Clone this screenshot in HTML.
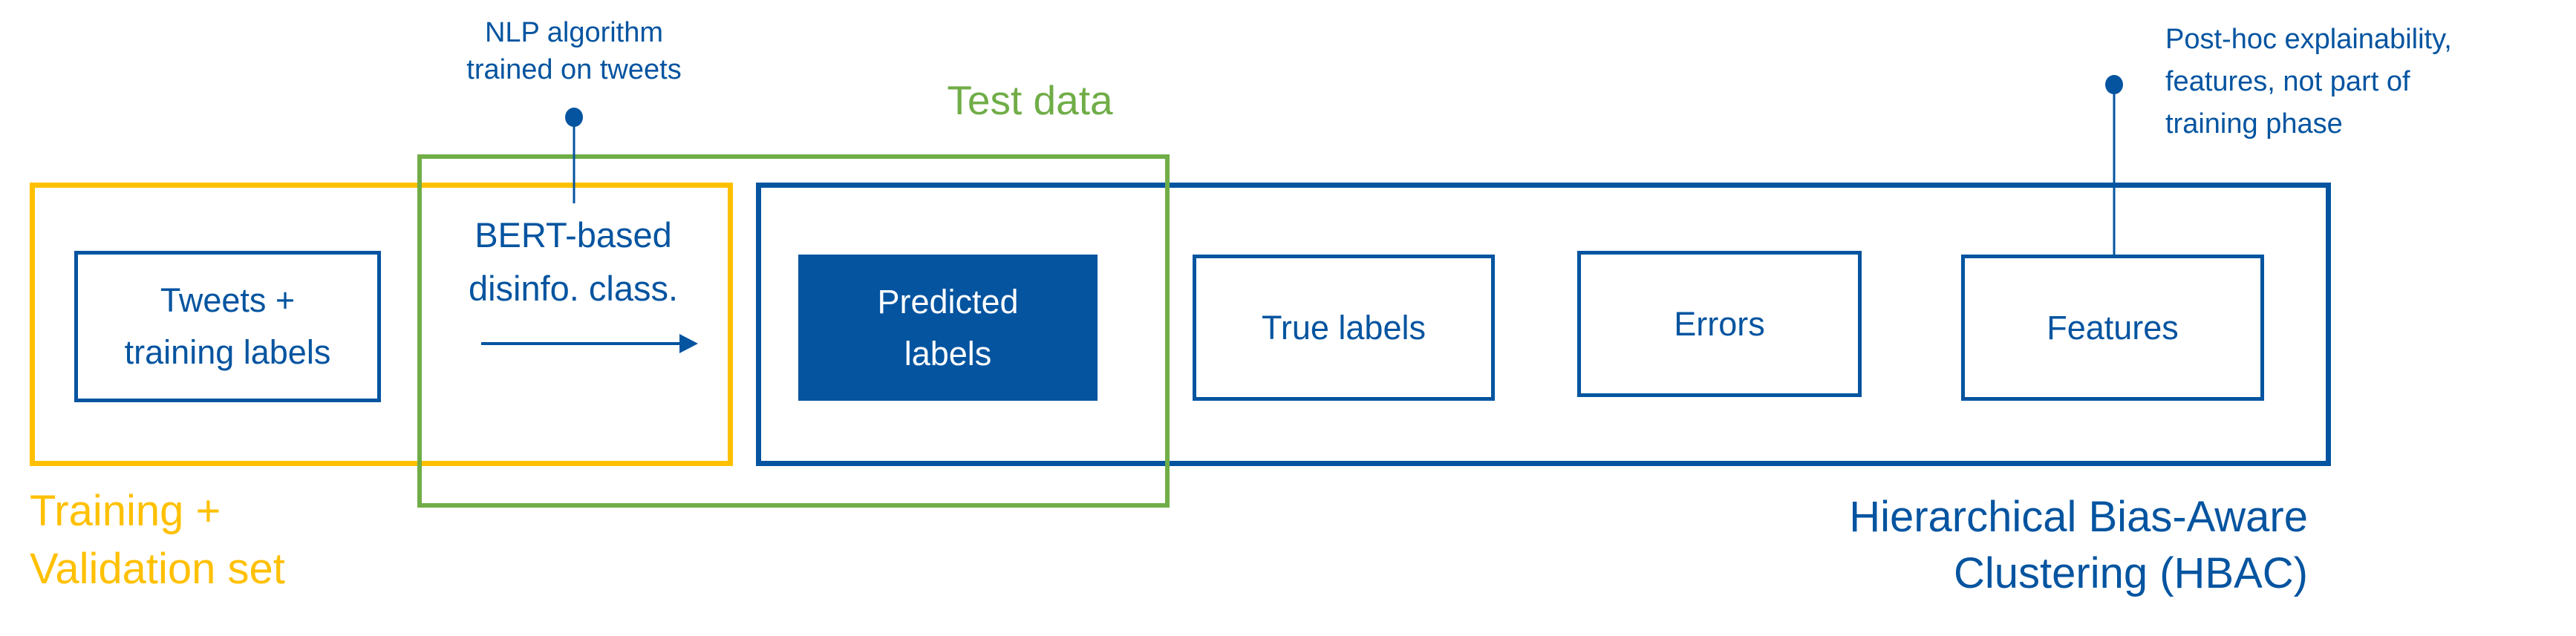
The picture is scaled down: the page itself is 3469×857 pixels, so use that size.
<!DOCTYPE html>
<html><head><meta charset="utf-8"><style>
html,body{margin:0;padding:0;background:#fff}
body{width:3469px;height:857px;position:relative;overflow:hidden;font-family:"Liberation Sans",sans-serif;color:#0454A0}
.b{position:absolute;box-sizing:border-box}
.t{position:absolute;white-space:nowrap;line-height:1.6}
.c{text-align:center;display:flex;align-items:center;justify-content:center;font-size:45px;line-height:1.55}
</style></head><body>
<div class="b" style="left:40px;top:246px;width:947px;height:382px;border:7px solid #FFC000"></div>
<div class="b" style="left:1018px;top:246px;width:2121px;height:382px;border:7px solid #0454A0"></div>
<div class="b" style="left:562px;top:208px;width:1013px;height:476px;border:6px solid #70AD47"></div>

<div class="b c" style="left:100px;top:338px;width:413px;height:204px;border:5px solid #0454A0">Tweets +<br>training labels</div>
<div class="b c" style="left:1075px;top:343px;width:403px;height:197px;background:#0454A0;color:#fff">Predicted<br>labels</div>
<div class="b c" style="left:1606px;top:343px;width:407px;height:197px;border:5px solid #0454A0">True labels</div>
<div class="b c" style="left:2124px;top:338px;width:383px;height:197px;border:5px solid #0454A0">Errors</div>
<div class="b c" style="left:2641px;top:343px;width:408px;height:197px;border:5px solid #0454A0">Features</div>

<div class="t" style="left:572px;top:281px;width:400px;text-align:center;font-size:47px;line-height:72px">BERT-based<br>disinfo. class.</div>

<svg class="b" style="left:0;top:0" width="3469" height="857">
<line x1="648" y1="463" x2="920" y2="463" stroke="#0454A0" stroke-width="4"/>
<polygon points="940,463 915,450 915,476" fill="#0454A0"/>
<line x1="773" y1="160" x2="773" y2="274" stroke="#0454A0" stroke-width="3"/>
<ellipse cx="773" cy="158" rx="12" ry="13" fill="#0454A0"/>
<line x1="2847" y1="115" x2="2847" y2="343" stroke="#0454A0" stroke-width="3"/>
<ellipse cx="2847" cy="114" rx="12" ry="13" fill="#0454A0"/>
</svg>

<div class="t" style="left:573px;top:19px;width:400px;text-align:center;font-size:38px;line-height:50px">NLP algorithm<br>trained on tweets</div>
<div class="t" style="left:1237px;top:102px;width:300px;text-align:center;font-size:55px;line-height:66px;color:#70AD47">Test data</div>
<div class="t" style="left:40px;top:650px;font-size:58px;line-height:78px;color:#FFC000">Training +<br>Validation set</div>
<div class="t" style="left:500px;top:659px;width:2608px;text-align:right;font-size:58px;line-height:76px">Hierarchical Bias-Aware<br>Clustering (HBAC)</div>
<div class="t" style="left:2916px;top:25px;font-size:38px;line-height:57px">Post-hoc explainability,<br>features, not part of<br>training phase</div>
</body></html>
